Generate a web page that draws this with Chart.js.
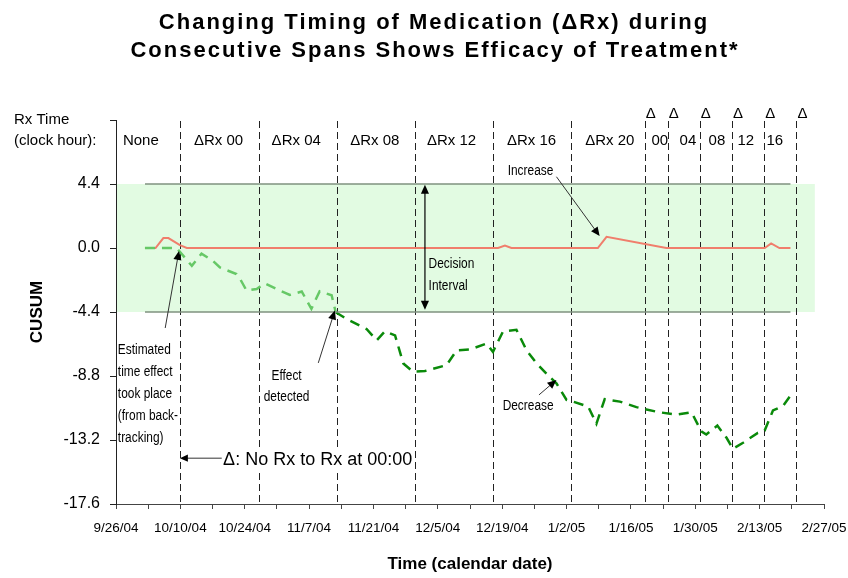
<!DOCTYPE html>
<html lang="en">
<head>
  <meta charset="UTF-8" />
  <title>Changing Timing of Medication</title>
  <script src="https://cdn.jsdelivr.net/npm/chart.js"></script>
  <style>
    html, body { margin: 0; padding: 0; background: #fff; }
    .chart-container { width: 848px; height: 578px; position: relative; }
  </style>
</head>
<body>
  <div class="chart-container"><canvas id="cusumChart"></canvas></div>

  <script>
    // x values are days since 9/26/04
    const titleLines = ['Changing Timing of Medication (\u0394Rx) during', 'Consecutive Spans Shows Efficacy of Treatment*'];
    const dateLabels = ['9/26/04', '10/10/04', '10/24/04', '11/7/04', '11/21/04', '12/5/04',
      '12/19/04', '1/2/05', '1/16/05', '1/30/05', '2/13/05', '2/27/05'];
    const yTicks = [-17.6, -13.2, -8.8, -4.4, 0.0, 4.4];

    const upperDays = [6.3, 8.6, 10.3, 11.4, 13.9, 15.4, 83.1, 84.6, 86.0, 104.8, 106.7, 119.7, 141.1, 142.5, 144.3, 146.7];
    const upperCusum = [0, 0, 0.68, 0.68, 0.2, 0, 0, 0.16, 0, 0, 0.77, 0, 0, 0.32, 0, 0];

    const lowerDaysBefore = [6.3, 13.2, 16.5, 18.6, 21.1, 22.6, 26.2, 27.0, 28.4, 30.6, 32.4, 34.9, 37.8, 40.4, 42.5, 44.3, 46.9, 47.8];
    const lowerCusumBefore = [0, 0, -1.23, -0.39, -0.89, -1.34, -1.79, -2.13, -2.93, -2.82, -2.43, -2.82, -3.23, -2.99, -4.18, -2.97, -3.25, -4.42];

    const lowerDaysAfter = [47.8, 50.2, 54.5, 56.7, 58.5, 60.7, 62.5, 64.6, 67.2, 71.9, 74.1, 77.0, 80.6, 82.0, 84.2,
      87.1, 89.3, 91.5, 94.3, 95.8, 98.0, 99.4, 102.7, 104.5, 106.3, 109.6, 113.2, 117.9, 121.9, 125.2,
      127.3, 128.4, 130.8, 132.8, 134.2, 136.4, 139.6, 141.1, 142.9, 145.1, 147.1];
    const lowerCusumAfter = [-4.42, -4.89, -5.57, -6.35, -5.73, -6.01, -7.94, -8.51, -8.46, -8.05, -7.03, -6.98, -6.57, -7.14, -5.73,
      -5.62, -7.03, -7.94, -8.85, -9.30, -10.44, -10.56, -10.90, -12.08, -10.39, -10.56, -10.94, -11.28, -11.46, -11.30,
      -12.60, -12.82, -12.21, -13.05, -13.80, -13.39, -12.71, -12.55, -11.17, -10.85, -9.98];

    const decisionLimit = 4.4;
    const limitDays = [6.3, 146.7];

    const changeDays = [14, 31, 48, 65, 82, 99, 115, 120, 127, 134, 141, 148];
    const spanLabels = ['None', '\u0394Rx 00', '\u0394Rx 04', '\u0394Rx 08', '\u0394Rx 12', '\u0394Rx 16', '\u0394Rx 20', '00', '04', '08', '12', '16'];
    const spanLabelDays = [5.4, 22.3, 39.2, 56.3, 73.0, 90.4, 107.4, 118.3, 124.4, 130.7, 137.0, 143.3];

    const pts = (xs, ys) => xs.map((x, i) => ({ x: x, y: ys[i] }));

    const arial = "Arial, 'Liberation Sans', sans-serif";

    function arrow(ctx, x1, y1, x2, y2, head) {
      const a = Math.atan2(y2 - y1, x2 - x1);
      ctx.beginPath();
      ctx.moveTo(x1, y1);
      ctx.lineTo(x2 - Math.cos(a) * head * 0.8, y2 - Math.sin(a) * head * 0.8);
      ctx.stroke();
      ctx.beginPath();
      ctx.moveTo(x2, y2);
      ctx.lineTo(x2 - head * Math.cos(a) + head * 0.45 * Math.sin(a), y2 - head * Math.sin(a) - head * 0.45 * Math.cos(a));
      ctx.lineTo(x2 - head * Math.cos(a) - head * 0.45 * Math.sin(a), y2 - head * Math.sin(a) + head * 0.45 * Math.cos(a));
      ctx.closePath();
      ctx.fill();
    }

    // the notes in the original use a condensed face
    function narrowText(ctx, t, x, y, align) {
      ctx.save();
      ctx.translate(x, y);
      ctx.scale(0.85, 1);
      ctx.textAlign = align;
      ctx.fillText(t, 0, 0);
      ctx.restore();
    }

    const extras = {
      id: 'extras',
      beforeDraw(chart) {
        const { ctx, chartArea, scales: { x, y } } = chart;
        ctx.save();
        ctx.fillStyle = '#e2fbe2';
        const top = y.getPixelForValue(decisionLimit);
        const bot = y.getPixelForValue(-decisionLimit);
        ctx.fillRect(chartArea.left, top, x.getPixelForValue(152) - chartArea.left, bot - top);

        ctx.fillStyle = '#000';
        ctx.font = 'bold 22px ' + arial;
        ctx.textAlign = 'center';
        ctx.textBaseline = 'alphabetic';
        ctx.letterSpacing = '2px';
        ctx.fillText(titleLines[0], 434, 29);
        ctx.fillText(titleLines[1], 435, 57);
        ctx.restore();
      },
      beforeDatasetsDraw(chart) {
        const { ctx, chartArea, scales: { x } } = chart;
        ctx.save();
        ctx.strokeStyle = '#222';
        ctx.lineWidth = 1;
        ctx.setLineDash([7, 4]);
        changeDays.forEach(d => {
          const px = Math.round(x.getPixelForValue(d)) + 0.5;
          ctx.beginPath();
          ctx.moveTo(px, chartArea.top + 1);
          ctx.lineTo(px, chartArea.bottom);
          ctx.stroke();
        });
        ctx.restore();
      },
      afterDatasetsDraw(chart) {
        const { ctx, scales: { x, y } } = chart;
        const X = v => x.getPixelForValue(v);
        const Y = v => y.getPixelForValue(v);
        ctx.save();
        ctx.fillStyle = '#000';
        ctx.textBaseline = 'middle';

        // span labels across the top
        ctx.font = '15px ' + arial;
        ctx.textAlign = 'center';
        spanLabels.forEach((t, i) => ctx.fillText(t, X(spanLabelDays[i]), 141));
        changeDays.slice(6).forEach(d => ctx.fillText('\u0394', X(d) + 6, 114));
        ctx.textAlign = 'left';
        ctx.fillText('Rx Time', 14, 120);
        ctx.fillText('(clock hour):', 14, 141);

        // notes
        ctx.font = '14px ' + arial;
        narrowText(ctx, 'Decision', X(68), Y(-1.1), 'left');
        narrowText(ctx, 'Interval', X(68), Y(-2.6), 'left');
        narrowText(ctx, 'Increase', X(85.2), Y(5.3), 'left');
        narrowText(ctx, 'Decrease', X(84.1), Y(-10.85), 'left');
        ['Estimated', 'time effect', 'took place', '(from back-', 'tracking)'].forEach((t, i) => {
          narrowText(ctx, t, X(0.4), Y(-7.03) + i * 22, 'left');
        });
        narrowText(ctx, 'Effect', X(37.1), Y(-8.8), 'center');
        narrowText(ctx, 'detected', X(37.1), Y(-10.25), 'center');

        // boxed note: white behind it hides the span line
        ctx.textAlign = 'left';
        ctx.font = '18px ' + arial;
        const note = '\u0394: No Rx to Rx at 00:00';
        const nx = X(23.3), ny = Y(-14.55);
        ctx.fillStyle = '#fff';
        ctx.fillRect(nx - 2, ny - 11, ctx.measureText(note).width + 4, 22);
        ctx.fillStyle = '#000';
        ctx.fillText(note, nx, ny);

        // arrows
        ctx.strokeStyle = '#000';
        ctx.lineWidth = 1.2;
        arrow(ctx, X(67.2), Y(0), X(67.2), Y(4.35), 9);
        arrow(ctx, X(67.2), Y(0), X(67.2), Y(-4.25), 9);
        ctx.strokeStyle = '#333';
        ctx.lineWidth = 1;
        arrow(ctx, X(95.8), Y(4.9), X(105.2), Y(0.82), 9);
        arrow(ctx, X(10.7), Y(-5.5), X(13.7), Y(-0.2), 9);
        arrow(ctx, X(44), Y(-7.9), X(47.6), Y(-4.3), 9);
        arrow(ctx, X(92), Y(-10.1), X(95.8), Y(-9.07), 9);
        arrow(ctx, X(23), Y(-14.45), X(13.9), Y(-14.45), 8);
        ctx.restore();
      }
    };

    new Chart(document.getElementById('cusumChart'), {
      type: 'line',
      data: {
        datasets: [
          { data: pts(limitDays, [decisionLimit, decisionLimit]), borderColor: '#7f927f', borderWidth: 1.5, pointRadius: 0 },
          { data: pts(limitDays, [-decisionLimit, -decisionLimit]), borderColor: '#7f927f', borderWidth: 1.5, pointRadius: 0 },
          { data: pts(lowerDaysBefore, lowerCusumBefore), borderColor: '#66c866', borderWidth: 2.5, borderDash: [10, 7], pointRadius: 0 },
          { data: pts(lowerDaysAfter, lowerCusumAfter), borderColor: '#0a8a0a', borderWidth: 2.5, borderDash: [10, 7], pointRadius: 0 },
          { data: pts(upperDays, upperCusum), borderColor: '#f07e6c', borderWidth: 2, pointRadius: 0 }
        ]
      },
      options: {
        responsive: true,
        maintainAspectRatio: false,
        animation: false,
        layout: { padding: { left: 23, right: 24, top: 120, bottom: 3 } },
        plugins: {
          legend: { display: false },
          tooltip: { enabled: false },
          title: { display: false }
        },
        scales: {
          x: {
            type: 'linear',
            min: 0,
            max: 154,
            afterFit: s => { s.height = 71; s.paddingLeft = 0; s.paddingRight = 0; },
            border: { color: '#444', width: 1 },
            grid: { drawOnChartArea: false, drawTicks: true, tickLength: 5, color: '#444' },
            ticks: {
              stepSize: 7,
              autoSkip: false,
              maxRotation: 0,
              padding: 11,
              color: '#000',
              font: { family: arial, size: 13.5 },
              callback: v => (v % 14 === 0 ? dateLabels[v / 14] : '')
            },
            title: {
              display: true,
              text: 'Time (calendar date)',
              color: '#000',
              font: { family: arial, size: 17, weight: 'bold' },
              padding: { top: 0, bottom: 0 }
            }
          },
          y: {
            min: -17.6,
            max: 8.8,
            afterFit: s => { s.width = 93; },
            afterBuildTicks: s => { s.ticks = yTicks.concat([8.8]).map(v => ({ value: v })); },
            border: { color: '#222', width: 1 },
            grid: { drawOnChartArea: false, drawTicks: true, tickLength: 6, color: '#222' },
            ticks: {
              padding: 10,
              color: '#000',
              font: { family: arial, size: 16 },
              callback: v => (yTicks.indexOf(v) >= 0 ? v.toFixed(1) : '')
            },
            title: {
              display: true,
              text: 'CUSUM',
              color: '#000',
              font: { family: arial, size: 17, weight: 'bold' },
              padding: { top: 4, bottom: 4 }
            }
          }
        }
      },
      plugins: [extras]
    });
  </script>
</body>
</html>
